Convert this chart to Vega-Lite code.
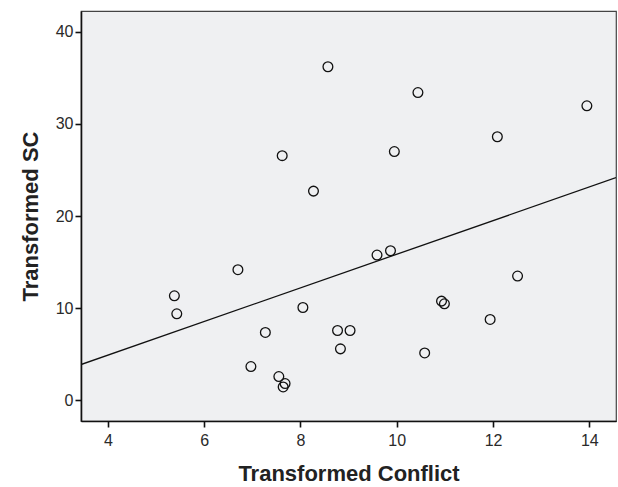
{
  "$schema": "https://vega.github.io/schema/vega-lite/v6.json",
  "autosize": "none",
  "width": 535,
  "height": 410,
  "padding": {"left": 81, "top": 11, "right": 2, "bottom": 66},
  "background": "white",
  "config": {
    "font": "Liberation Sans",
    "view": {"fill": "#eff0f2", "stroke": "#444", "strokeWidth": 1.2},
    "axis": {
      "grid": false,
      "domainColor": "#111",
      "domainWidth": 1.6,
      "tickColor": "#111",
      "tickWidth": 1.6,
      "tickSize": 6,
      "labelFont": "Liberation Sans",
      "labelFontSize": 16,
      "labelColor": "#2a2a2a",
      "titleFont": "Liberation Sans",
      "titleFontSize": 22,
      "titleFontWeight": "bold",
      "titleColor": "#222"
    }
  },
  "datasets": {
    "pts": [
      {"conflict": 7.62, "sc": 26.55},
      {"conflict": 8.27, "sc": 22.7},
      {"conflict": 8.57, "sc": 36.2},
      {"conflict": 10.44, "sc": 33.4},
      {"conflict": 13.95, "sc": 31.96},
      {"conflict": 12.09, "sc": 28.6},
      {"conflict": 9.95, "sc": 26.99},
      {"conflict": 6.7, "sc": 14.17},
      {"conflict": 5.38, "sc": 11.34},
      {"conflict": 5.43, "sc": 9.38},
      {"conflict": 8.05, "sc": 10.07},
      {"conflict": 7.27, "sc": 7.36},
      {"conflict": 6.97, "sc": 3.66},
      {"conflict": 7.55, "sc": 2.57},
      {"conflict": 7.68, "sc": 1.81},
      {"conflict": 7.64, "sc": 1.45},
      {"conflict": 9.59, "sc": 15.76},
      {"conflict": 9.87, "sc": 16.23},
      {"conflict": 12.51, "sc": 13.48},
      {"conflict": 10.93, "sc": 10.76},
      {"conflict": 10.99, "sc": 10.47},
      {"conflict": 11.94, "sc": 8.77},
      {"conflict": 8.77, "sc": 7.57},
      {"conflict": 9.03, "sc": 7.57},
      {"conflict": 8.83, "sc": 5.58},
      {"conflict": 10.58, "sc": 5.14}
    ],
    "fit": [
      {"conflict": 3.44, "sc": 3.88},
      {"conflict": 14.555, "sc": 24.16}
    ]
  },
  "layer": [
    {
      "data": {"name": "fit"},
      "mark": {"type": "line", "color": "#111", "strokeWidth": 1.3, "clip": true},
      "encoding": {
        "x": {"field": "conflict", "type": "quantitative"},
        "y": {"field": "sc", "type": "quantitative"}
      }
    },
    {
      "data": {"name": "pts"},
      "mark": {"type": "point", "shape": "circle", "filled": false, "stroke": "#111", "strokeWidth": 1.3, "size": 95, "opacity": 1},
      "encoding": {
        "x": {
          "field": "conflict", "type": "quantitative",
          "scale": {"domain": [3.44, 14.555], "nice": false, "zero": false},
          "axis": {"values": [4, 6, 8, 10, 12, 14], "title": "Transformed Conflict", "labelPadding": 5, "titlePadding": 15}
        },
        "y": {
          "field": "sc", "type": "quantitative",
          "scale": {"domain": [-2.25, 42.25], "nice": false, "zero": false},
          "axis": {"values": [0, 10, 20, 30, 40], "title": "Transformed SC", "labelPadding": 2, "titlePadding": 13}
        }
      }
    }
  ]
}
